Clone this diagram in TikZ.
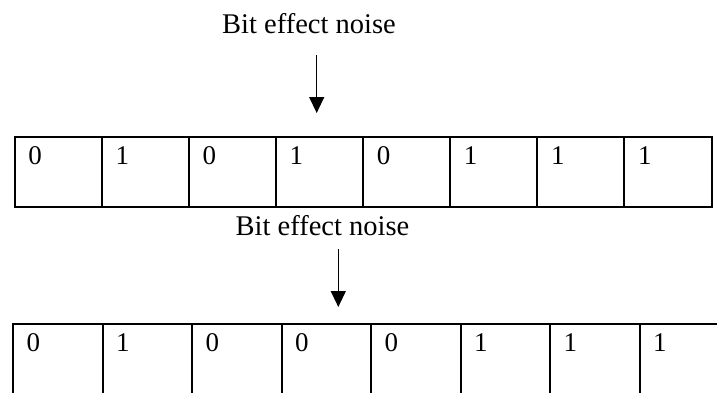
\documentclass[tikz,border=0pt]{standalone}
\usepackage{fontspec}
\setmainfont{Liberation Serif}
\usetikzlibrary{arrows.meta,calc}
\tikzset{
  cellbox/.style={draw, line width=2pt, rectangle, inner sep=0pt, outer sep=0pt, anchor=north west, minimum height=70pt},
  topcell/.style={cellbox, minimum width=87.1pt},
  botcell/.style={cellbox, minimum width=89.5pt},
  digit/.style={anchor=base west, inner sep=0pt, font=\fontsize{27}{32}\selectfont},
  caption/.style={anchor=base, inner sep=0pt, font=\fontsize{28.5}{34}\selectfont},
  noisearrow/.style={line width=1.3pt, -{Triangle[length=16pt,width=15pt]}}
}
\begin{document}
\begin{tikzpicture}[x=1pt,y=-1pt]
\useasboundingbox (0,0) rectangle (717,392);
% top caption and arrow
\node[caption] (c1) at (309,33) {Bit effect noise};
\coordinate (a1s) at (316.7,55);
\coordinate (a1e) at (316.7,113);
\draw[noisearrow] (a1s) -- (a1e);
% top row
\foreach \i/\d in {0/0,1/1,2/0,3/1,4/0,5/1,6/1,7/1}{
  \node[topcell] (t\i) at ({14.7+87.1*\i},136.7) {};
  \node[digit] (td\i) at ($(t\i.north west)+(13.5,27.6)$) {\d};
}
% bottom caption and arrow
\node[caption] (c2) at (322.5,235) {Bit effect noise};
\coordinate (a2s) at (338.3,249);
\coordinate (a2e) at (338.3,307);
\draw[noisearrow] (a2s) -- (a2e);
% bottom row
\foreach \i/\d in {0/0,1/1,2/0,3/0,4/0,5/1,6/1,7/1}{
  \node[botcell] (b\i) at ({13+89.5*\i},324) {};
  \node[digit] (bd\i) at ($(b\i.north west)+(13.5,27.7)$) {\d};
}
\end{tikzpicture}
\end{document}
